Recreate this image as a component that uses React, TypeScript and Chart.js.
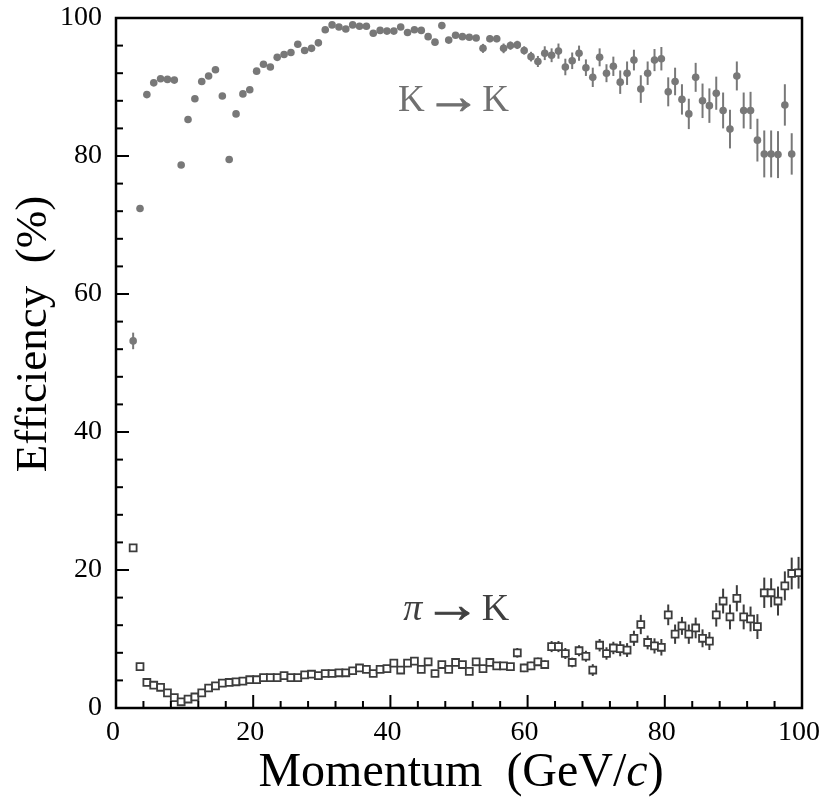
import React, { useEffect, useRef } from "react";
import { Chart, registerables } from "chart.js";

Chart.register(...registerables);

// Momentum bin centres (GeV/c) and efficiencies (%)
const kaonX = [
  2.5, 3.5, 4.5, 5.5, 6.5, 7.5, 8.5, 9.5, 10.5, 11.5, 12.5, 13.5, 14.5, 15.5, 16.5, 17.5, 18.5, 19.5,
  20.5, 21.5, 22.5, 23.5, 24.5, 25.5, 26.5, 27.5, 28.5, 29.5, 30.5, 31.5, 32.5, 33.5, 34.5, 35.5, 36.5,
  37.5, 38.5, 39.5, 40.5, 41.5, 42.5, 43.5, 44.5, 45.5, 46.5, 47.5, 48.5, 49.5, 50.5, 51.5, 52.5, 53.5,
  54.5, 55.5, 56.5, 57.5, 58.5, 59.5, 60.5, 61.5, 62.5, 63.5, 64.5, 65.5, 66.5, 67.5, 68.5, 69.5, 70.5,
  71.5, 72.5, 73.5, 74.5, 75.5, 76.5, 77.5, 78.5, 79.5, 80.5, 81.5, 82.5, 83.5, 84.5, 85.5, 86.5, 87.5,
  88.5, 89.5, 90.5, 91.5, 92.5, 93.5, 94.5, 95.5, 96.5, 97.5, 98.5,
];
const kaonEff = [
  53.2, 72.4, 88.9, 90.6, 91.2, 91.1, 91.0, 78.7, 85.3, 88.3, 90.8, 91.6, 92.5, 88.7, 79.5, 86.1, 89.0, 89.6,
  92.3, 93.3, 92.9, 94.3, 94.7, 95.0, 96.2, 95.3, 95.6, 96.4, 98.3, 99.0, 98.7, 98.4, 99.0, 98.8, 98.8,
  97.8, 98.2, 98.1, 98.1, 98.7, 97.9, 98.3, 98.2, 97.3, 96.5, 98.9, 96.8, 97.5, 97.3, 97.2, 97.1, 95.6,
  97.0, 97.0, 95.6, 96.0, 96.1, 95.3, 94.4, 93.7, 94.9, 94.6, 95.2, 92.9, 93.8, 94.9, 92.8, 91.4, 94.3,
  92.0, 93.0, 90.7, 92.0, 93.9, 89.7, 92.0, 93.9, 94.1, 89.3, 90.8, 88.2, 86.1, 91.4, 88.0, 87.3, 89.1,
  86.6, 83.9, 91.6, 86.6, 86.6, 82.3, 80.3, 80.3, 80.2, 87.4, 80.3,
];
const kaonErr = [
  1.2, 0.4, 0.3, 0.3, 0.3, 0.3, 0.3, 0.3, 0.3, 0.3, 0.3, 0.3, 0.3, 0.3, 0.3, 0.3, 0.3, 0.3,
  0.3, 0.3, 0.3, 0.3, 0.3, 0.3, 0.3, 0.3, 0.3, 0.3, 0.3, 0.3, 0.3, 0.3, 0.3, 0.3, 0.3,
  0.3, 0.3, 0.3, 0.3, 0.3, 0.3, 0.3, 0.3, 0.3, 0.3, 0.35, 0.35, 0.35, 0.35, 0.35, 0.35, 0.65,
  0.5, 0.5, 0.7, 0.6, 0.6, 0.6, 0.7, 0.8, 1.0, 1.0, 1.1, 1.2, 1.2, 1.1, 1.2, 1.4, 1.3,
  1.3, 1.4, 1.7, 1.7, 1.5, 2.0, 1.7, 1.6, 1.7, 2.1, 2.0, 2.2, 2.2, 2.1, 2.5, 2.5, 2.4,
  2.6, 2.8, 2.1, 2.6, 2.7, 3.1, 3.4, 3.4, 3.4, 3.0, 3.0,
];

const pionX = [
  2.5, 3.5, 4.5, 5.5, 6.5, 7.5, 8.5, 9.5, 10.5, 11.5, 12.5, 13.5, 14.5, 15.5, 16.5, 17.5, 18.5, 19.5,
  20.5, 21.5, 22.5, 23.5, 24.5, 25.5, 26.5, 27.5, 28.5, 29.5, 30.5, 31.5, 32.5, 33.5, 34.5, 35.5, 36.5,
  37.5, 38.5, 39.5, 40.5, 41.5, 42.5, 43.5, 44.5, 45.5, 46.5, 47.5, 48.5, 49.5, 50.5, 51.5, 52.5, 53.5,
  54.5, 55.5, 56.5, 57.5, 58.5, 59.5, 60.5, 61.5, 62.5, 63.5, 64.5, 65.5, 66.5, 67.5, 68.5, 69.5, 70.5,
  71.5, 72.5, 73.5, 74.5, 75.5, 76.5, 77.5, 78.5, 79.5, 80.5, 81.5, 82.5, 83.5, 84.5, 85.5, 86.5, 87.5,
  88.5, 89.5, 90.5, 91.5, 92.5, 93.5, 94.5, 95.5, 96.5, 97.5, 98.5, 99.5,
];
const pionEff = [
  23.2, 6.0, 3.7, 3.3, 3.0, 2.2, 1.5, 0.9, 1.3, 1.6, 2.2, 2.9, 3.2, 3.6, 3.7, 3.8, 3.9, 4.1,
  4.1, 4.4, 4.4, 4.4, 4.7, 4.4, 4.4, 4.8, 4.9, 4.7, 5.0, 5.0, 5.1, 5.1, 5.4, 5.8, 5.6,
  5.0, 5.6, 5.7, 6.5, 5.5, 6.5, 6.8, 5.6, 6.7, 5.0, 6.3, 5.6, 6.6, 6.3, 5.3, 6.7, 5.7,
  6.6, 6.1, 6.1, 6.0, 8.0, 5.8, 6.1, 6.7, 6.3, 8.9, 8.9, 7.9, 6.6, 8.3, 7.5, 5.5, 9.1,
  7.9, 8.7, 8.6, 8.4, 10.1, 12.1, 9.5, 9.0, 8.8, 13.5, 10.7, 11.9, 10.7, 11.6, 10.1, 9.7, 13.5,
  15.5, 13.2, 15.9, 13.2, 12.9, 11.8, 16.7, 16.7, 15.5, 17.7, 19.5, 19.6,
];
const pionErr = [
  0.3, 0.3, 0.3, 0.3, 0.3, 0.3, 0.3, 0.3, 0.3, 0.3, 0.3, 0.3, 0.3, 0.3, 0.3, 0.3, 0.3, 0.3,
  0.3, 0.3, 0.3, 0.3, 0.3, 0.3, 0.3, 0.3, 0.3, 0.3, 0.3, 0.3, 0.3, 0.3, 0.3, 0.3, 0.3,
  0.3, 0.3, 0.3, 0.3, 0.3, 0.3, 0.3, 0.3, 0.3, 0.45, 0.45, 0.45, 0.45, 0.45, 0.45, 0.45, 0.45,
  0.45, 0.45, 0.45, 0.45, 0.7, 0.6, 0.6, 0.6, 0.6, 0.8, 0.8, 0.8, 0.7, 0.8, 0.8, 0.85, 0.9,
  0.9, 0.9, 1.1, 1.0, 1.1, 1.4, 1.0, 1.1, 1.2, 1.5, 1.4, 1.3, 1.4, 1.5, 1.3, 1.3, 1.7,
  1.8, 1.8, 1.9, 1.8, 1.8, 1.8, 2.2, 2.1, 2.1, 2.1, 2.3, 2.3,
];

const xTickValues = [0, 20, 40, 60, 80, 100];
const yTickValues = [0, 20, 40, 60, 80, 100];
const minorStep = 4;

const kaonLabel = { x: 57.3, y: 86.5, from: "K", to: "K" };
const pionLabel = { x: 57.3, y: 12.8, from: "\u03c0", to: "K" };
const ARROW = "\u2192";

const SERIF = '"Liberation Serif", "DejaVu Serif", serif';

const errorBarPlugin = {
  id: "errorBars",
  beforeDatasetsDraw(chart: any) {
    const ctx = chart.ctx;
    const yScale = chart.scales.y;
    chart.data.datasets.forEach((ds: any, di: number) => {
      const meta = chart.getDatasetMeta(di);
      ctx.save();
      ctx.strokeStyle = ds.errColor;
      ctx.lineWidth = 2;
      meta.data.forEach((pt: any, i: number) => {
        const v = ds.data[i].y;
        const e = ds.errors[i];
        const y1 = yScale.getPixelForValue(v - e);
        const y2 = yScale.getPixelForValue(v + e);
        ctx.beginPath();
        ctx.moveTo(pt.x, y1);
        ctx.lineTo(pt.x, y2);
        ctx.stroke();
      });
      ctx.restore();
    });
  },
};

// draws "A → B" right-aligned at (xr, y), with an enlarged arrow glyph
function drawReaction(ctx: any, xr: number, y: number, from: string, to: string, size: number, color: string, italicFrom: boolean) {
  ctx.save();
  ctx.fillStyle = color;
  ctx.strokeStyle = color;
  ctx.textAlign = "left";
  ctx.textBaseline = "alphabetic";
  const fN = `${size}px ${SERIF}`;
  const fI = `italic ${size}px ${SERIF}`;
  const sx = 1.5;
  const sy = 1.35;
  const gap = size * 0.03;
  ctx.font = fN;
  const wTo = ctx.measureText(to).width;
  const wArrow = ctx.measureText(ARROW).width * sx;
  ctx.font = italicFrom ? fI : fN;
  const wFrom = ctx.measureText(from).width;
  let x = xr - (wFrom + gap + wArrow + gap + wTo);
  ctx.fillText(from, x, y);
  x += wFrom + gap;
  ctx.font = fN;
  ctx.save();
  ctx.translate(x, y + size * 0.05);
  ctx.scale(sx, sy);
  ctx.lineWidth = 0.7;
  ctx.fillText(ARROW, 0, 0);
  ctx.strokeText(ARROW, 0, 0);
  ctx.restore();
  x += wArrow + gap;
  ctx.fillText(to, x, y);
  ctx.restore();
}

const framePlugin = {
  id: "frame",
  afterDraw(chart: any) {
    const ctx = chart.ctx;
    const { left, right, top, bottom } = chart.chartArea;
    const xs = chart.scales.x;
    const ys = chart.scales.y;
    ctx.save();
    ctx.strokeStyle = "#000";
    ctx.lineWidth = 2;
    for (let v = xs.min; v <= xs.max + 1e-9; v += minorStep) {
      const px = xs.getPixelForValue(v);
      const len = xTickValues.includes(v) ? 13 : 7;
      ctx.beginPath();
      ctx.moveTo(px, bottom);
      ctx.lineTo(px, bottom - len);
      ctx.stroke();
    }
    for (let v = ys.min; v <= ys.max + 1e-9; v += minorStep) {
      const py = ys.getPixelForValue(v);
      const len = yTickValues.includes(v) ? 13 : 7;
      ctx.beginPath();
      ctx.moveTo(left, py);
      ctx.lineTo(left + len, py);
      ctx.stroke();
    }
    ctx.lineWidth = 2.5;
    ctx.strokeRect(left, top, right - left, bottom - top);
    ctx.restore();

    drawReaction(ctx, xs.getPixelForValue(kaonLabel.x), ys.getPixelForValue(kaonLabel.y),
      kaonLabel.from, kaonLabel.to, 37, "#707070", false);
    drawReaction(ctx, xs.getPixelForValue(pionLabel.x), ys.getPixelForValue(pionLabel.y),
      pionLabel.from, pionLabel.to, 38, "#3f3f3f", true);

    ctx.save();
    // x-axis title
    ctx.fillStyle = "#000";
    ctx.textAlign = "left";
    ctx.textBaseline = "alphabetic";
    const fN = `48px ${SERIF}`;
    const fI = `italic 48px ${SERIF}`;
    const parts = [
      { t: "Momentum  (GeV/", f: fN },
      { t: "c", f: fI },
      { t: ")", f: fN },
    ];
    let total = 0;
    parts.forEach((p) => {
      ctx.font = p.f;
      total += ctx.measureText(p.t).width;
    });
    let cx = (left + right) / 2 + 2 - total / 2;
    parts.forEach((p) => {
      ctx.font = p.f;
      ctx.fillText(p.t, cx, 786);
      cx += ctx.measureText(p.t).width;
    });

    // y-axis title
    ctx.translate(46, 334);
    ctx.rotate(-Math.PI / 2);
    ctx.font = `45px ${SERIF}`;
    ctx.textAlign = "center";
    ctx.fillText("Efficiency  (%)", 0, 0);
    ctx.restore();
  },
};

export default function App() {
  const ref = useRef<HTMLCanvasElement>(null);

  useEffect(() => {
    document.body.style.margin = "0";
    const canvas = ref.current;
    if (!canvas) return;
    const chart = new Chart(canvas, {
      type: "scatter",
      data: {
        datasets: [
          {
            label: "K \u2192 K",
            data: kaonX.map((x, i) => ({ x, y: kaonEff[i] })),
            errors: kaonErr,
            errColor: "#787878",
            pointStyle: "circle",
            pointRadius: 3.8,
            backgroundColor: "#787878",
            borderColor: "#787878",
            borderWidth: 0,
          } as any,
          {
            label: "\u03c0 \u2192 K",
            data: pionX.map((x, i) => ({ x, y: pionEff[i] })),
            errors: pionErr,
            errColor: "#3c3c3c",
            pointStyle: "rect",
            pointRadius: 4.9,
            backgroundColor: "#ffffff",
            borderColor: "#3c3c3c",
            borderWidth: 1.8,
          } as any,
        ],
      },
      options: {
        animation: false,
        responsive: false,
        events: [],
        layout: { padding: { left: 0, top: 18, right: 27, bottom: 0 } },
        plugins: {
          legend: { display: false },
          tooltip: { enabled: false },
        },
        scales: {
          x: {
            type: "linear",
            min: 0,
            max: 100,
            grid: { display: false, drawTicks: false },
            border: { display: false },
            ticks: {
              stepSize: 20,
              padding: 8,
              labelOffset: -3,
              color: "#000",
              font: { family: SERIF, size: 28 },
            },
            afterFit: (s: any) => {
              s.height = 104;
            },
          },
          y: {
            type: "linear",
            min: 0,
            max: 100,
            grid: { display: false, drawTicks: false },
            border: { display: false },
            ticks: {
              stepSize: 20,
              padding: 14,
              color: "#000",
              font: { family: SERIF, size: 28, lineHeight: 0.2 },
            },
            afterFit: (s: any) => {
              s.width = 116;
            },
          },
        },
      } as any,
      plugins: [errorBarPlugin, framePlugin],
    });
    return () => chart.destroy();
  }, []);

  return (
    <div style={{ position: "absolute", left: 0, top: 0, width: 831, height: 812, background: "#fff" }}>
      <canvas ref={ref} width={831} height={812} style={{ display: "block" }} />
    </div>
  );
}
